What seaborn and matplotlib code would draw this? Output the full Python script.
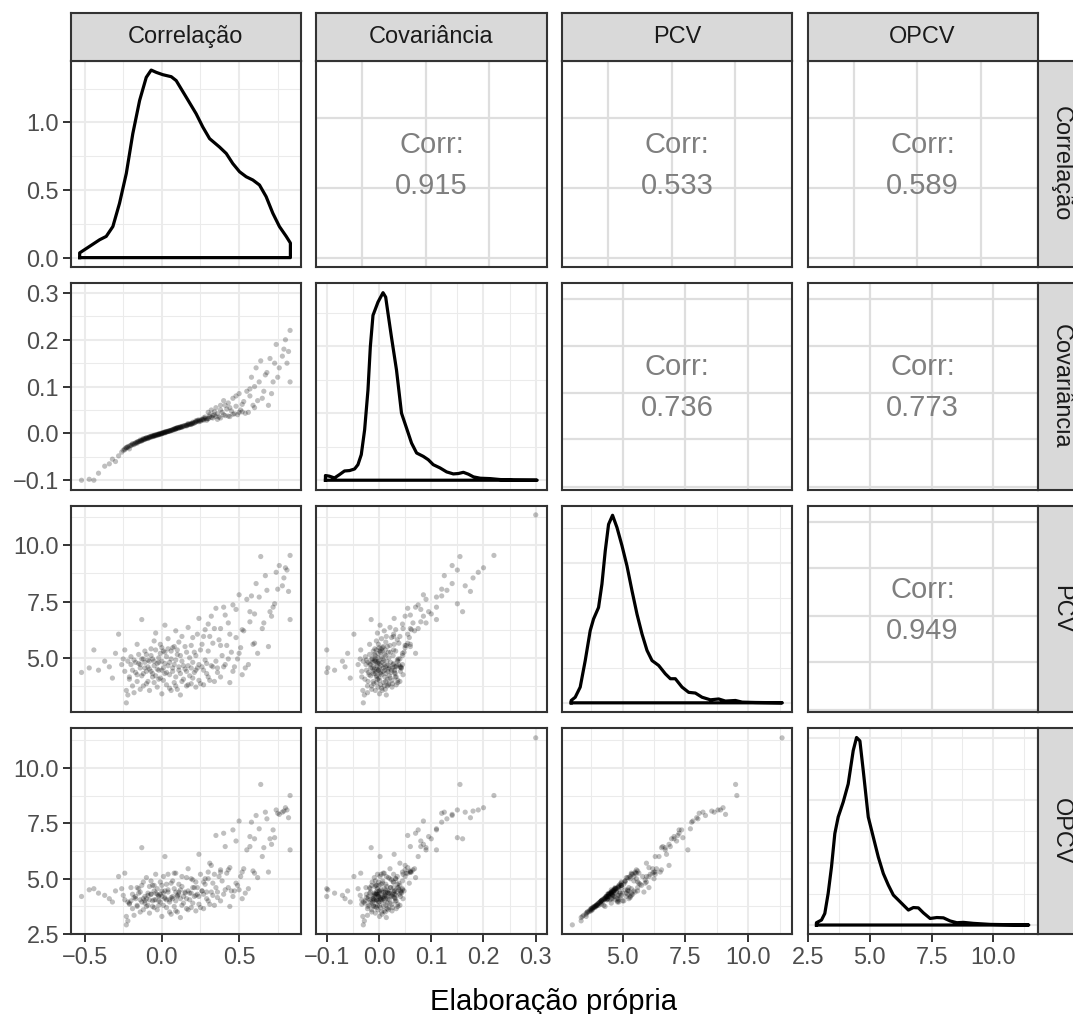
import numpy as np
import pandas as pd
import matplotlib
matplotlib.use("Agg")
import matplotlib.pyplot as plt
import matplotlib.transforms as mtransforms
from matplotlib.ticker import MultipleLocator
import seaborn as sns

plt.rcParams['font.family'] = ['Liberation Sans', 'DejaVu Sans']

# ---------------- data ----------------
variables = ["Correlação", "Covariância", "PCV", "OPCV"]
nan = float("nan")

correlacao = [
    -0.52, -0.47, -0.44, -0.41, -0.37, -0.34, -0.32, -0.30, -0.28, -0.26,
    -0.24, -0.23, -0.22, -0.21, -0.20, -0.19, -0.18, -0.17, -0.16, -0.16,
    -0.15, -0.14, -0.14, -0.13, -0.12, -0.12, -0.11, -0.10, -0.10, -0.09,
    -0.08, -0.08, -0.07, -0.07, -0.06, -0.06, -0.05, -0.05, -0.04, -0.04,
    -0.03, -0.03, -0.02, -0.02, -0.01, -0.01, 0.00, 0.00, 0.01, 0.01,
    0.02, 0.02, 0.03, 0.03, 0.04, 0.04, 0.05, 0.06, 0.06, 0.07,
    0.07, 0.08, 0.08, 0.09, 0.09, 0.10, 0.10, 0.11, 0.11, 0.12,
    0.12, 0.13, 0.13, 0.14, 0.15, 0.16, 0.16, 0.17, 0.17, 0.18,
    0.19, 0.19, 0.20, 0.20, 0.21, 0.22, 0.22, 0.23, 0.24, 0.24,
    0.25, 0.26, 0.27, 0.27, 0.28, 0.29, 0.30, 0.30, 0.31, 0.32,
    0.32, 0.33, 0.34, 0.35, 0.36, 0.37, 0.38, 0.38, 0.39, 0.40,
    0.41, 0.42, 0.43, 0.44, 0.45, 0.46, 0.47, 0.48, 0.49, 0.50,
    0.51, 0.52, 0.53, 0.55, 0.56, 0.57, 0.58, 0.59, 0.60, 0.61,
    0.62, 0.64, 0.66, 0.67, 0.69, 0.70, 0.72, 0.74, 0.76, 0.78,
    0.80, 0.82, 0.83, 0.83, nan,
    -0.25, -0.24, -0.23, -0.22, -0.21, -0.20, -0.19, -0.18, -0.17, -0.16,
    -0.15, -0.14, -0.13, -0.13, -0.12, -0.11, -0.11, -0.10, -0.09, -0.09,
    -0.08, -0.07, -0.06, -0.05, -0.05, -0.04, -0.03, -0.02, -0.02, -0.01,
    0.00, 0.00, 0.01, 0.02, 0.02, 0.03, 0.04, 0.05, 0.05, 0.06,
    0.07, 0.08, 0.09, 0.09, 0.10, 0.11, 0.12, 0.13, 0.14, 0.15,
    0.16, 0.17, 0.18, 0.19, 0.20, 0.21, 0.22, 0.23, 0.24, 0.25,
    0.26, 0.27, 0.28, 0.29, 0.30, 0.31, 0.33, 0.34, 0.35, 0.36,
    0.38, 0.40, 0.41, 0.43, 0.44, 0.46, 0.48, 0.50, 0.52, 0.54,
    0.57, 0.60, 0.63, 0.65, 0.68, 0.71, 0.73, 0.75, 0.79, 0.81]

covariancia = [
    -0.100, -0.098, -0.100, -0.085, -0.070, -0.065, -0.055, -0.060, -0.048, -0.040,
    -0.035, -0.030, -0.028, -0.033, -0.025, -0.022, -0.024, -0.020, -0.018, -0.021,
    -0.017, -0.016, -0.014, -0.015, -0.013, -0.011, -0.012, -0.010, -0.009, -0.010,
    -0.008, -0.007, -0.008, -0.006, -0.006, -0.005, -0.005, -0.004, -0.004, -0.003,
    -0.003, -0.002, -0.002, -0.001, -0.001, 0.000, 0.000, 0.001, 0.001, 0.002,
    0.002, 0.003, 0.003, 0.004, 0.004, 0.005, 0.005, 0.006, 0.007, 0.008,
    0.007, 0.009, 0.010, 0.010, 0.011, 0.011, 0.012, 0.012, 0.013, 0.013,
    0.014, 0.015, 0.014, 0.016, 0.017, 0.018, 0.016, 0.019, 0.021, 0.020,
    0.021, 0.019, 0.022, 0.024, 0.023, 0.025, 0.027, 0.026, 0.029, 0.025,
    0.028, 0.030, 0.033, 0.028, 0.035, 0.031, 0.045, 0.032, 0.036, 0.050,
    0.034, 0.038, 0.040, 0.055, 0.042, 0.035, 0.060, 0.033, 0.045, 0.070,
    0.038, 0.052, 0.065, 0.036, 0.048, 0.075, 0.042, 0.058, 0.040, 0.085,
    0.050, 0.046, 0.068, 0.090, 0.045, 0.080, 0.120, 0.060, 0.100, 0.140,
    0.070, 0.155, 0.090, 0.125, 0.060, 0.160, 0.110, 0.190, 0.140, 0.165,
    0.200, 0.175, 0.220, 0.110, 0.300,
    -0.036, -0.033, -0.031, -0.030, -0.027, -0.026, -0.024, -0.022, -0.021, -0.019,
    -0.018, -0.017, -0.016, -0.014, -0.014, -0.013, -0.011, -0.011, -0.009, -0.011,
    -0.009, -0.007, -0.007, -0.006, -0.005, -0.005, -0.004, -0.003, -0.002, -0.002,
    -0.001, 0.000, 0.001, 0.001, 0.003, 0.003, 0.004, 0.006, 0.005, 0.006,
    0.008, 0.008, 0.009, 0.010, 0.012, 0.011, 0.013, 0.013, 0.015, 0.016,
    0.017, 0.018, 0.019, 0.020, 0.021, 0.022, 0.024, 0.028, 0.027, 0.026,
    0.029, 0.030, 0.032, 0.028, 0.031, 0.040, 0.033, 0.046, 0.036, 0.030,
    0.050, 0.040, 0.060, 0.037, 0.055, 0.041, 0.080, 0.045, 0.062, 0.043,
    0.095, 0.055, 0.110, 0.075, 0.130, 0.085, 0.150, 0.120, 0.180, 0.150]

pcv = [
    4.35, 4.55, 5.35, 4.45, 4.85, 4.60, 4.10, 5.20, 6.05, 4.70,
    5.35, 3.00, 3.35, 4.15, 4.70, 3.75, 4.90, 4.35, 5.60, 3.95,
    4.75, 4.55, 3.60, 6.70, 4.95, 4.30, 4.80, 3.85, 5.15, 4.60,
    4.85, 3.55, 5.40, 4.40, 4.95, 4.15, 5.75, 4.65, 4.20, 6.10,
    4.75, 3.70, 5.00, 4.45, 5.60, 4.10, 4.85, 3.40, 4.55, 5.30,
    6.45, 4.30, 3.80, 5.05, 4.65, 5.85, 4.25, 3.55, 4.95, 4.40,
    5.45, 3.90, 4.70, 6.20, 4.15, 5.15, 3.60, 4.60, 5.70, 4.30,
    3.35, 4.85, 5.95, 4.05, 4.50, 5.25, 3.75, 4.65, 6.35, 4.20,
    5.55, 3.85, 4.80, 5.90, 4.35, 3.70, 5.10, 4.55, 6.75, 4.00,
    5.35, 4.60, 3.80, 5.95, 4.90, 4.30, 6.50, 5.30, 4.00, 6.85,
    4.65, 5.65, 3.95, 7.20, 4.55, 5.80, 6.30, 4.15, 5.10, 7.25,
    4.70, 5.55, 6.55, 3.90, 5.25, 7.35, 4.60, 5.90, 4.95, 7.80,
    5.45, 4.25, 6.20, 7.60, 4.70, 6.60, 7.75, 5.60, 6.95, 8.30,
    5.20, 9.50, 6.55, 8.65, 5.50, 7.05, 7.25, 8.80, 9.10, 8.20,
    9.00, 7.95, 9.55, 6.70, 11.35,
    4.95, 4.40, 3.55, 4.85, 4.05, 5.05, 4.45, 3.45, 4.80, 4.25,
    5.15, 4.70, 4.20, 4.95, 3.75, 4.55, 5.30, 4.40, 4.90, 3.95,
    4.50, 5.10, 4.30, 4.85, 3.90, 5.35, 4.50, 4.05, 4.80, 5.20,
    4.45, 5.45, 4.00, 4.75, 5.25, 4.35, 5.40, 4.80, 3.65, 5.30,
    4.55, 5.50, 4.90, 3.75, 5.35, 4.45, 5.10, 3.95, 4.65, 5.50,
    4.40, 3.80, 5.00, 4.55, 4.10, 5.25, 4.45, 6.05, 4.70, 3.85,
    5.60, 4.45, 6.25, 4.75, 4.15, 5.95, 4.60, 6.30, 4.85, 4.35,
    5.55, 4.60, 6.90, 4.95, 6.05, 4.40, 7.15, 5.20, 6.25, 4.55,
    7.05, 5.65, 7.70, 6.30, 8.00, 6.85, 7.40, 8.05, 8.55, 8.90]

opcv = [
    4.20, 4.50, 4.55, 4.35, 4.25, 4.10, 3.95, 4.45, 5.10, 4.55,
    5.25, 2.92, 3.10, 3.85, 4.60, 3.65, 4.15, 4.20, 4.60, 3.75,
    4.55, 4.40, 3.50, 6.40, 4.85, 4.10, 4.00, 3.75, 5.05, 4.25,
    4.65, 3.45, 4.30, 4.30, 4.70, 4.00, 4.70, 4.45, 4.05, 5.20,
    4.55, 3.60, 4.00, 4.20, 4.85, 3.95, 4.70, 3.30, 4.35, 5.10,
    6.00, 4.15, 3.70, 4.75, 4.50, 4.40, 4.05, 3.40, 4.80, 4.20,
    4.90, 3.75, 4.55, 5.25, 4.00, 4.20, 3.50, 4.40, 4.75, 4.10,
    3.25, 4.65, 5.10, 3.90, 4.35, 5.05, 3.65, 4.45, 5.45, 4.05,
    5.00, 3.70, 4.60, 4.95, 4.20, 3.55, 4.85, 4.30, 6.10, 3.85,
    5.20, 4.45, 3.65, 4.85, 4.75, 4.10, 5.30, 5.00, 3.85, 5.60,
    4.40, 4.80, 3.80, 6.95, 4.40, 5.10, 5.30, 4.00, 4.90, 7.05,
    4.50, 5.25, 5.40, 3.75, 4.45, 7.20, 4.45, 4.80, 4.70, 7.60,
    5.10, 4.10, 5.45, 6.30, 4.55, 6.45, 7.55, 5.35, 6.80, 7.85,
    5.05, 9.25, 6.40, 8.00, 5.30, 6.80, 7.20, 8.10, 7.90, 8.00,
    8.20, 7.75, 8.75, 6.30, 11.35,
    4.25, 4.05, 3.30, 3.95, 3.90, 4.00, 4.30, 3.35, 4.10, 3.80,
    4.35, 4.05, 3.95, 4.70, 3.60, 3.90, 4.20, 4.10, 4.35, 3.80,
    4.05, 4.90, 3.75, 4.05, 3.70, 4.35, 4.30, 3.80, 4.25, 4.30,
    4.20, 4.45, 3.80, 4.45, 4.10, 4.05, 5.20, 3.95, 3.50, 4.15,
    4.10, 5.25, 4.40, 3.55, 4.25, 4.30, 4.50, 3.80, 4.20, 4.40,
    4.10, 3.60, 4.35, 4.35, 3.90, 4.60, 4.25, 4.60, 4.20, 3.70,
    4.45, 4.30, 5.00, 4.40, 4.00, 5.70, 4.25, 5.20, 4.60, 4.15,
    5.40, 4.30, 6.45, 4.60, 5.50, 4.20, 6.70, 4.50, 5.30, 4.35,
    6.90, 5.25, 7.25, 6.00, 7.70, 6.55, 6.85, 7.95, 8.05, 8.10]

# correlation labels of the upper panels (row, col) in reading order
corr_values = ["0.915", "0.533", "0.589", "0.736", "0.773", "0.949"]

# density curves on the diagonal
dens_corr_x = [-0.532, -0.468, -0.403, -0.360, -0.317, -0.274, -0.230, -0.188, -0.144,
               -0.101, -0.069, -0.036, 0.006, 0.061, 0.093, 0.158, 0.222, 0.265, 0.309,
               0.373, 0.417, 0.459, 0.503, 0.546, 0.589, 0.632, 0.675, 0.718, 0.761,
               0.805, 0.832]
dens_corr_y = [0.035, 0.083, 0.132, 0.157, 0.230, 0.402, 0.623, 0.917, 1.162,
               1.333, 1.387, 1.370, 1.353, 1.338, 1.309, 1.186, 1.064, 0.966, 0.880,
               0.818, 0.770, 0.696, 0.635, 0.598, 0.574, 0.537, 0.451, 0.329, 0.230,
               0.157, 0.108]

dens_cov_x = [-0.1025, -0.0948, -0.0852, -0.0756, -0.0660, -0.0563, -0.0467, -0.0403,
              -0.0339, -0.0275, -0.0211, -0.0166, -0.0115, -0.0019, 0.0077, 0.0128,
              0.0173, 0.0238, 0.0335, 0.0431, 0.0527, 0.0623, 0.0720, 0.0847, 0.0943,
              0.1038, 0.1167, 0.1295, 0.1423, 0.1519, 0.1615, 0.1711, 0.1808, 0.1936,
              0.2129, 0.2321, 0.2577, 0.3027]
dens_cov_y = [0.35, 0.30, 0.17, 0.42, 0.69, 0.72, 0.84, 1.16,
              1.91, 3.76, 6.73, 9.95, 12.30, 13.29, 13.99, 13.66,
              12.43, 10.69, 8.22, 5.00, 3.89, 2.77, 2.03, 1.78, 1.53,
              1.16, 0.92, 0.62, 0.47, 0.50, 0.59, 0.45, 0.25, 0.15,
              0.12, 0.05, 0.01, 0.0]

dens_pcv_x = [2.955, 3.114, 3.313, 3.513, 3.712, 3.844, 4.043, 4.178, 4.310, 4.442,
              4.601, 4.777, 4.976, 5.175, 5.375, 5.574, 5.774, 5.973, 6.172, 6.437,
              6.703, 6.902, 7.101, 7.367, 7.632, 7.898, 8.164, 8.497, 8.828, 9.095,
              9.494, 9.760, 10.29, 11.36]
dens_pcv_y = [0.0067, 0.016, 0.045, 0.121, 0.207, 0.240, 0.273, 0.340, 0.435, 0.511,
              0.537, 0.502, 0.450, 0.392, 0.321, 0.254, 0.197, 0.150, 0.121, 0.107,
              0.083, 0.069, 0.069, 0.045, 0.030, 0.028, 0.016, 0.0086, 0.011, 0.005,
              0.0067, 0.002, 0.001, 0.0]

dens_opcv_x = [2.852, 3.055, 3.189, 3.324, 3.459, 3.594, 3.729, 3.932, 4.134, 4.337,
               4.472, 4.607, 4.742, 4.945, 5.147, 5.350, 5.553, 5.755, 5.958, 6.161,
               6.363, 6.566, 6.767, 6.969, 7.172, 7.443, 7.715, 7.982, 8.254, 8.525,
               8.792, 9.198, 9.874, 11.43]
dens_opcv_y = [0.0074, 0.016, 0.037, 0.101, 0.186, 0.293, 0.346, 0.394, 0.452, 0.559,
               0.601, 0.590, 0.495, 0.346, 0.282, 0.218, 0.165, 0.128, 0.096, 0.080,
               0.064, 0.048, 0.056, 0.055, 0.039, 0.021, 0.024, 0.023, 0.013, 0.0074,
               0.0085, 0.0053, 0.002, 0.0]

# axis ranges and ticks
lim_correlacao = (-0.59, 0.90)
lim_covariancia = (-0.120, 0.3206)
lim_pcv = (2.584, 11.75)
lim_opcv = (2.49, 11.79)

ticks_correlacao = [-0.5, 0.0, 0.5]
labels_correlacao = ["\u22120.5", "0.0", "0.5"]
ticks_covariancia = [-0.1, 0.0, 0.1, 0.2, 0.3]
labels_covariancia = ["\u22120.1", "0.0", "0.1", "0.2", "0.3"]
ticks_pcv = [5.0, 7.5, 10.0]
labels_pcv = ["5.0", "7.5", "10.0"]
ticks_opcv = [2.5, 5.0, 7.5, 10.0]
labels_opcv = ["2.5", "5.0", "7.5", "10.0"]
ticks_density_row1 = [0.0, 0.5, 1.0]
labels_density_row1 = ["0.0", "0.5", "1.0"]

df = pd.DataFrame({"Correlação": correlacao, "Covariância": covariancia,
                   "PCV": pcv, "OPCV": opcv})

lims = [lim_correlacao, lim_covariancia, lim_pcv, lim_opcv]
ticks = [ticks_correlacao, ticks_covariancia, ticks_pcv, ticks_opcv]
labels = [labels_correlacao, labels_covariancia, labels_pcv, labels_opcv]
dens = [(dens_corr_x, dens_corr_y), (dens_cov_x, dens_cov_y),
        (dens_pcv_x, dens_pcv_y), (dens_opcv_x, dens_opcv_y)]
dens_steps = [None, (5, 2.5), (0.2, 0.1), (0.2, 0.1)]

# ---------------- layout ----------------
W, H = 1073, 1014
fig = plt.figure(figsize=(W / 100, H / 100), dpi=100)
col_left = [70.7, 316.3, 561.9, 807.5]
row_top = [60.7, 283.3, 505.9, 728.1]
pw, ph = 230.2, 206.3

BORDER = '#333333'
GRID = '#ebebeb'
UGRID = '#dedede'
TICK_FS = 16.9


def add_ax(x, y, w, h):
    return fig.add_axes([x / W, 1 - (y + h) / H, w / W, h / H])


def minors(major, lim):
    step = major[1] - major[0]
    cand = [major[0] - step / 2] + [(a + b) / 2 for a, b in zip(major[:-1], major[1:])] + [major[-1] + step / 2]
    return [c for c in cand if lim[0] <= c <= lim[1]]


def base_style(ax):
    for s in ax.spines.values():
        s.set_color(BORDER)
        s.set_linewidth(1.5)
        s.set_zorder(5)
    ax.set_facecolor('white')
    ax.tick_params(which='both', length=0, labelleft=False, labelbottom=False,
                   colors=BORDER, labelcolor='#4d4d4d', labelsize=TICK_FS, width=1.4)
    ax.set_axisbelow(True)


def grid_on(ax):
    ax.grid(True, which='major', color=GRID, lw=1.5)
    ax.grid(True, which='minor', color=GRID, lw=0.75)


row1_v = [0.2, 0.477, 0.752]
row1_h = [0.045, 0.383, 0.722]
row_h_upper = [0.013, 0.243, 0.466, 0.697, 0.923]

k = 0
for i in range(4):
    for j in range(4):
        ax = add_ax(col_left[j], row_top[i], pw, ph)
        base_style(ax)
        if i >= j:
            ax.set_xlim(lims[j])
            ax.set_xticks(ticks[j], labels=labels[j])
            ax.set_xticks(minors(ticks[j], lims[j]), minor=True)
        if i > j:
            sns.scatterplot(data=df, x=variables[j], y=variables[i], ax=ax,
                            color='black', alpha=0.25, s=14, linewidth=0,
                            edgecolor='none', legend=False)
            ax.set_ylim(lims[i])
            ax.set_yticks(ticks[i], labels=labels[i])
            ax.set_yticks(minors(ticks[i], lims[i]), minor=True)
            grid_on(ax)
        elif i == j:
            xs, ys = dens[i]
            px = [xs[0]] + list(xs) + [xs[-1], xs[0]]
            py = [0.0] + list(ys) + [0.0, 0.0]
            sns.lineplot(x=px, y=py, ax=ax, sort=False, estimator=None,
                         color='black', lw=2.3)
            top = max(ys)
            ax.set_ylim(-0.05 * top, 1.05 * top)
            if i == 0:
                ax.set_yticks(ticks_density_row1, labels=labels_density_row1)
                ax.set_yticks(minors(ticks_density_row1, (-0.05 * top, 1.05 * top)), minor=True)
            else:
                ax.yaxis.set_major_locator(MultipleLocator(dens_steps[i][0]))
                ax.yaxis.set_minor_locator(MultipleLocator(dens_steps[i][1]))
            grid_on(ax)
        else:
            ax.set_xlim(0, 1)
            ax.set_ylim(0, 1)
            ax.set_xticks([])
            ax.set_yticks([])
            if i == 0:
                for v in row1_v:
                    ax.axvline(v, color=UGRID, lw=1.6, zorder=0)
                for h in row1_h:
                    ax.axhline(h, color=UGRID, lw=1.6, zorder=0)
            else:
                lo, hi = lims[j]
                for t in ticks[j]:
                    if lo <= t <= hi:
                        ax.axvline((t - lo) / (hi - lo), color=UGRID, lw=1.6, zorder=0)
                for h in row_h_upper:
                    ax.axhline(h, color=UGRID, lw=1.6, zorder=0)
            up = mtransforms.offset_copy(ax.transAxes, fig=fig, y=19.0 * 0.72, units='points')
            dn = mtransforms.offset_copy(ax.transAxes, fig=fig, y=-22.0 * 0.72, units='points')
            ax.text(0.5, 0.5, "Corr:", transform=up, ha='center', va='center',
                    fontsize=21, color='#7f7f7f')
            ax.text(0.5, 0.5, corr_values[k], transform=dn, ha='center', va='center',
                    fontsize=21, color='#7f7f7f')
            k += 1
        ax.set_xlabel('')
        ax.set_ylabel('')
        if (j == 0 and i != j) or (i == 0 and j == 0):
            ax.tick_params(axis='y', which='major', length=5.5, labelleft=True, pad=3)
        if i == 3:
            ax.tick_params(axis='x', which='major', length=5.5, labelbottom=True, pad=3)

# strips
for j in range(4):
    s = add_ax(col_left[j], 12.7, pw, 48)
    s.set_facecolor('#d9d9d9')
    s.set_xticks([]); s.set_yticks([])
    for sp in s.spines.values():
        sp.set_color(BORDER); sp.set_linewidth(1.5)
    s.text(0.5, 0.5, variables[j], ha='center', va='center', fontsize=TICK_FS,
           color='#1a1a1a', transform=s.transAxes)
for i in range(4):
    s = add_ax(col_left[3] + pw, row_top[i], 48, ph)
    s.set_facecolor('#d9d9d9')
    s.set_xticks([]); s.set_yticks([])
    for sp in s.spines.values():
        sp.set_color(BORDER); sp.set_linewidth(1.5)
    s.text(0.5, 0.5, variables[i], ha='center', va='center', fontsize=TICK_FS,
           color='#1a1a1a', rotation=-90, transform=s.transAxes)

fig.text(554 / W, 1 - 1010 / H, "Elaboração própria", ha='center', va='baseline',
         fontsize=21, color='black')

fig.savefig("out.png", dpi=100)
